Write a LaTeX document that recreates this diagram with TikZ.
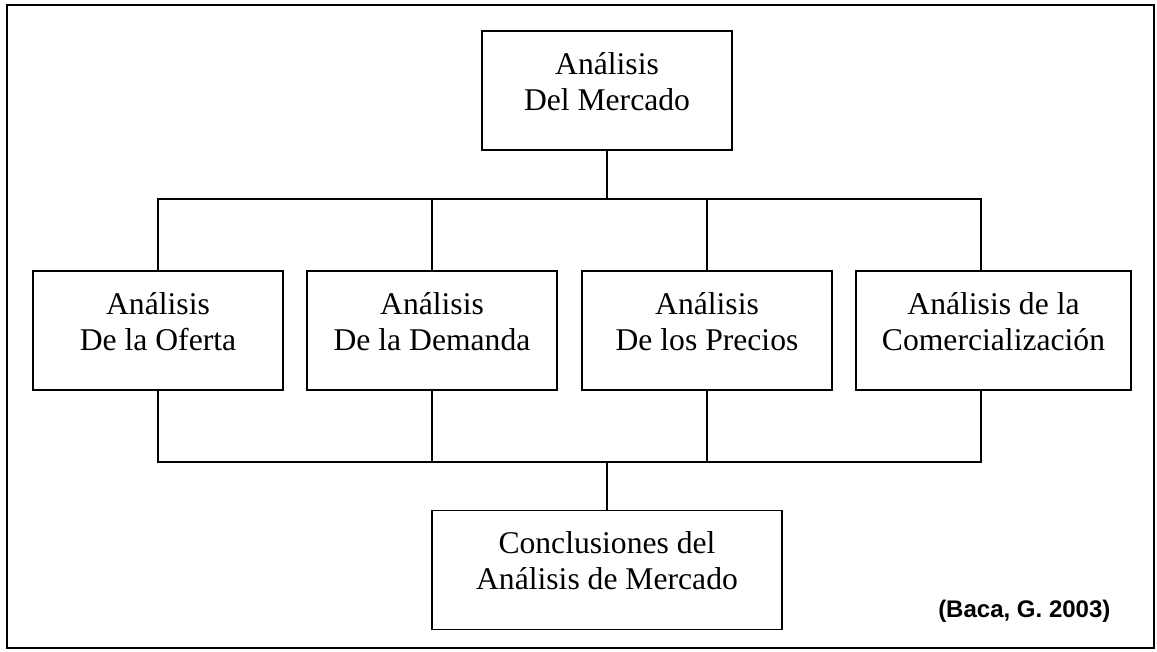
\documentclass[tikz,border=0pt]{standalone}
\usepackage{fontspec}
\setmainfont{Liberation Serif}
\newfontfamily\citafont{Liberation Sans}
\usepackage{tikz}
\usetikzlibrary{calc}
\tikzset{
  marco/.style={draw=black, line width=1.6pt},
  caja/.style={draw=black, line width=1.2pt, rectangle, inner sep=0pt, minimum height=3.57cm},
  txt/.style={align=center, font=\fontsize{27pt}{30.7pt}\selectfont, inner sep=0pt},
  linea/.style={draw=black, line width=1.2pt},
  cita/.style={font=\citafont\bfseries\fontsize{20.5pt}{24pt}\selectfont, inner sep=0pt, anchor=base west},
}

\begin{document}
\begin{tikzpicture}[x=0.03cm, y=-0.03cm]
  \useasboundingbox (0,0) rectangle (1157,652);
  \draw[marco] (7,5) rectangle (1154,648);
  % cajas
  \node[caja, minimum width=7.5cm]  (mercado) at (607,90.5) {};
  \node[caja, minimum width=7.5cm]  (oferta)  at (158,330.5) {};
  \node[caja, minimum width=7.5cm]  (demanda) at (432,330.5) {};
  \node[caja, minimum width=7.5cm]  (precios) at (707,330.5) {};
  \node[caja, minimum width=8.25cm] (comerc)  at (993.5,330.5) {};
  \node[caja, minimum width=10.5cm] (concl)   at (607,570) {};
  % textos
  \node[txt] (tMercado) at ($(mercado.center)+(0,-9)$) {Análisis\\Del Mercado};
  \node[txt] (tOferta)  at ($(oferta.center)+(0,-9)$)  {Análisis\\De la Oferta};
  \node[txt] (tDemanda) at ($(demanda.center)+(0,-9)$) {Análisis\\De la Demanda};
  \node[txt] (tPrecios) at ($(precios.center)+(0,-9)$) {Análisis\\De los Precios};
  \node[txt] (tComerc)  at ($(comerc.center)+(0,-9)$)  {Análisis de la\\Comercialización};
  \node[txt] (tConcl)   at ($(concl.center)+(0,-9)$)   {Conclusiones del\\Análisis de Mercado};
  \node[cita] (cita) at (938,617) {(Baca, G. 2003)};
  % conectores
  \coordinate (busA) at (0,199);
  \coordinate (busB) at (0,462);
  \coordinate (pComerc) at ($(comerc.north)+(-12.5,0)$);
  \coordinate (qComerc) at ($(comerc.south)+(-12.5,0)$);
  \draw[linea] (mercado.south) -- (mercado.south |- busA);
  \draw[linea] (oferta.north) -- (oferta.north |- busA) -| (pComerc);
  \draw[linea] (demanda.north) -- (demanda.north |- busA);
  \draw[linea] (precios.north) -- (precios.north |- busA);
  \draw[linea] (oferta.south) -- (oferta.south |- busB) -| (qComerc);
  \draw[linea] (demanda.south) -- (demanda.south |- busB);
  \draw[linea] (precios.south) -- (precios.south |- busB);
  \draw[linea] (concl.north) -- (concl.north |- busB);
\end{tikzpicture}
\end{document}
